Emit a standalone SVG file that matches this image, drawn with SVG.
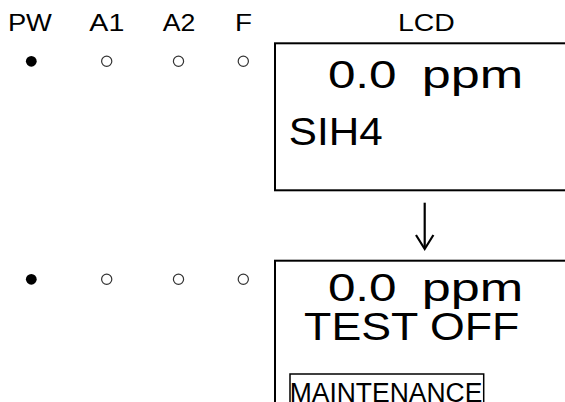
<svg xmlns="http://www.w3.org/2000/svg" width="565" height="402" viewBox="0 0 565 402">
<style>
text{font-family:"Liberation Sans",Arial,sans-serif;fill:#000}
.lbl{font-size:24px}
.big{font-size:38px}
.small{font-size:27px}
.on{fill:#000}
.off{fill:#fff;stroke:#333;stroke-width:1.2}
.box{fill:none;stroke:#000;stroke-width:2}
.mbox{fill:none;stroke:#000;stroke-width:1.5}
.arrow{fill:none;stroke:#000;stroke-width:2.2;stroke-linecap:butt}
</style>
<g id="labels">
<text class="lbl" x="7.9" y="31" textLength="44" lengthAdjust="spacingAndGlyphs">PW</text>
<text class="lbl" x="89.3" y="31" textLength="35" lengthAdjust="spacingAndGlyphs">A1</text>
<text class="lbl" x="162.7" y="31" textLength="32.6" lengthAdjust="spacingAndGlyphs">A2</text>
<text class="lbl" x="235.1" y="31" textLength="17" lengthAdjust="spacingAndGlyphs">F</text>
<text class="lbl" x="397.9" y="31" textLength="56.8" lengthAdjust="spacingAndGlyphs">LCD</text>
</g>
<g id="leds1">
<circle class="on" cx="31.3" cy="61.3" r="5.4"/>
<circle class="off" cx="106.7" cy="61.3" r="5.1"/>
<circle class="off" cx="178.5" cy="61.3" r="5.1"/>
<circle class="off" cx="243.3" cy="61.3" r="5.1"/>
</g>
<g id="lcd1">
<rect class="box" x="275" y="43.3" width="300" height="147"/>
<text class="big" y="87.5"><tspan x="327.9" textLength="68.7" lengthAdjust="spacingAndGlyphs">0.0</tspan> <tspan x="421.7" textLength="101.5" lengthAdjust="spacingAndGlyphs">ppm</tspan></text>
<text class="big" x="288.8" y="144.5" textLength="93.8" lengthAdjust="spacingAndGlyphs">SIH4</text>
</g>
<g id="connectors">
<path class="arrow" d="M424.7,202.7 V248"/>
<path class="arrow" d="M416,235 L424.7,249 L433.4,235"/>
</g>
<g id="leds2">
<circle class="on" cx="31.3" cy="279.3" r="5.4"/>
<circle class="off" cx="106.7" cy="279.3" r="5.1"/>
<circle class="off" cx="178.5" cy="279.3" r="5.1"/>
<circle class="off" cx="243.3" cy="279.3" r="5.1"/>
</g>
<g id="lcd2">
<rect class="box" x="275" y="260.7" width="300" height="160"/>
<text class="big" y="301"><tspan x="327.9" textLength="68.7" lengthAdjust="spacingAndGlyphs">0.0</tspan> <tspan x="421.7" textLength="101.5" lengthAdjust="spacingAndGlyphs">ppm</tspan></text>
<text class="big" x="304.1" y="339.5" textLength="215.2" lengthAdjust="spacingAndGlyphs">TEST OFF</text>
<rect class="mbox" x="290" y="374" width="193.7" height="40"/>
<text class="small" x="289.7" y="402" textLength="192.6" lengthAdjust="spacingAndGlyphs">MAINTENANCE</text>
</g>
</svg>
